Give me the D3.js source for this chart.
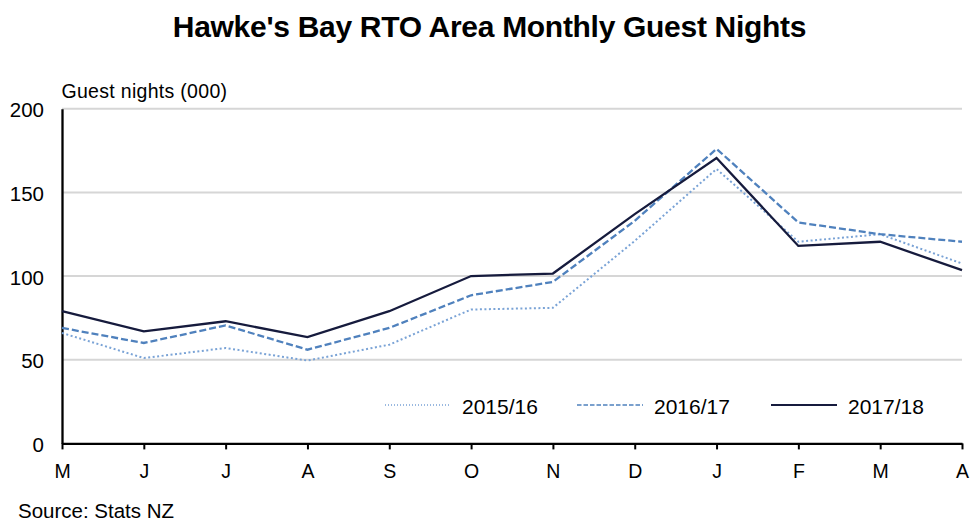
<!DOCTYPE html>
<html>
<head>
<meta charset="utf-8">
<script src="https://cdn.jsdelivr.net/npm/d3@7"></script>
<style>
  body { margin: 0; background: #fff; }
  text { font-family: "Liberation Sans", Arial, sans-serif; fill: #000; }
</style>
</head>
<body>
<svg id="chart" width="970" height="524"></svg>
<script>
const months = ["M", "J", "J", "A", "S", "O", "N", "D", "J", "F", "M", "A"];
const yTicks = [0, 50, 100, 150, 200];
const seriesNames = ["2015/16", "2016/17", "2017/18"];
const nights1516 = [66, 51, 57, 49.5, 59, 80, 81, 121, 164, 120.5, 125, 107.5];
const nights1617 = [69, 60, 70.5, 56, 69, 88.5, 96.5, 133, 176, 132, 125, 120.5];
const nights1718 = [79, 67, 73, 63.5, 79, 100, 101.5, 137, 170.5, 118, 120.5, 103.5];

const svg = d3.select("#chart");
const margin = { left: 62, right: 8, top: 108.7, bottom: 80.6 };
const width = 970, height = 524;

const xScale = d3.scalePoint()
  .domain(d3.range(months.length))
  .range([margin.left, width - margin.right]);
const yScale = d3.scaleLinear()
  .domain([0, 200])
  .range([height - margin.bottom, margin.top]);

// Title
svg.append("text")
  .attr("x", 489.5)
  .attr("y", 37)
  .attr("text-anchor", "middle")
  .style("font-size", "30px")
  .style("font-weight", "bold")
  .style("letter-spacing", "-0.3px")
  .text("Hawke's Bay RTO Area Monthly Guest Nights");

// Gridlines
svg.append("g")
  .selectAll("line")
  .data(yTicks.filter(d => d > 0))
  .join("line")
    .attr("x1", margin.left)
    .attr("x2", width - margin.right)
    .attr("y1", d => yScale(d))
    .attr("y2", d => yScale(d))
    .attr("stroke", "#d6d6d6")
    .attr("stroke-width", 2);

// Y axis
const leftAxis = d3.axisLeft(yScale).tickValues(yTicks).tickSize(0).tickPadding(18);
svg.append("g")
  .attr("class", "axis-y")
  .attr("transform", `translate(${margin.left},0)`)
  .call(leftAxis)
  .call(g => g.select(".domain").attr("stroke", "#000").attr("stroke-width", 2.3))
  .selectAll("text")
    .style("font-size", "20.5px")
    .attr("dy", "0.4em");

// X axis
const bottomAxis = d3.axisBottom(xScale)
  .tickFormat(i => months[i])
  .tickSize(6)
  .tickSizeOuter(0);
svg.append("g")
  .attr("class", "axis-x")
  .attr("transform", `translate(0,${yScale(0)})`)
  .call(bottomAxis)
  .call(g => g.select(".domain").attr("stroke", "#000").attr("stroke-width", 2.3))
  .call(g => g.selectAll(".tick line").attr("stroke", "#000").attr("stroke-width", 2))
  .selectAll("text")
    .style("font-size", "19.5px")
    .attr("y", 35)
    .attr("dy", null);

// Axis label
svg.append("text")
  .attr("x", 61.5)
  .attr("y", 98.3)
  .style("font-size", "19.5px")
  .style("letter-spacing", "0.3px")
  .text("Guest nights (000)");

// Lines
const styles = [
  { data: nights1516, color: "#7aa3d6", dash: "2 2.5", width: 2, legendDash: "1 2", legendWidth: 1.3 },
  { data: nights1617, color: "#4f81bd", dash: "7 3", width: 2.3, legendDash: "4.5 2", legendWidth: 1.6 },
  { data: nights1718, color: "#161b3d", dash: null, width: 2.3, legendDash: null, legendWidth: 1.8 }
];
const curveGenerator = d3.line()
  .x((d, i) => xScale(i))
  .y(d => yScale(d));

svg.append("g")
  .selectAll("path")
  .data(styles)
  .join("path")
    .attr("d", d => curveGenerator(d.data))
    .attr("fill", "none")
    .attr("stroke", d => d.color)
    .attr("stroke-width", d => d.width)
    .attr("stroke-dasharray", d => d.dash);

// Legend
const legendX = [385, 577, 771];
const legend = svg.append("g");
styles.forEach((s, i) => {
  legend.append("line")
    .attr("x1", legendX[i])
    .attr("x2", legendX[i] + 66)
    .attr("y1", 405)
    .attr("y2", 405)
    .attr("stroke", s.color)
    .attr("stroke-width", s.legendWidth)
    .attr("stroke-dasharray", s.legendDash);
  legend.append("text")
    .attr("x", legendX[i] + 77)
    .attr("y", 414)
    .style("font-size", "21px")
    .text(seriesNames[i]);
});

// Source
svg.append("text")
  .attr("x", 18)
  .attr("y", 518)
  .style("font-size", "20.5px")
  .text("Source: Stats NZ");
</script>
</body>
</html>
